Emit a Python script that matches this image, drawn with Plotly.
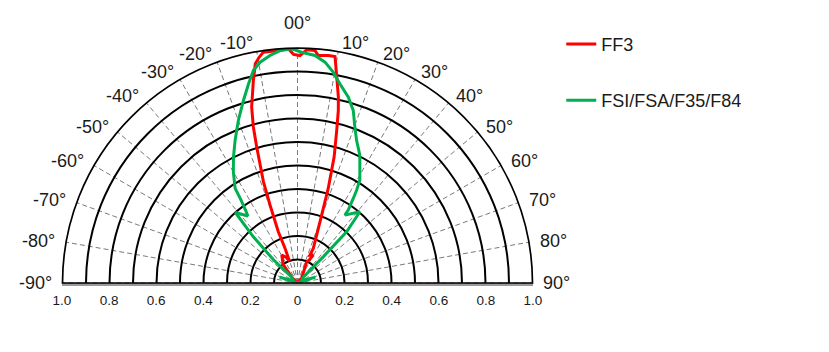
import math
import plotly.graph_objects as go

# ---- data (angle in degrees from vertical, relative intensity) ----
red_theta = [-90, -45, -38, -29.4, -24, -20, -19.8, -20.5, -19.4, -18.6, -17.3, -16.7,
             -15.8, -14.6, -12.3, -10.9, -9.6, -8.4, -6.3, -4.3, -2.2, -1.0, 0.6, 2.3,
             4.3, 5.2, 7.7, 9.4, 10.8, 12.4, 13.3, 14.4, 16.2, 18.0, 20.2, 24.5, 24.0,
             29.4, 27.0, 23.4, 40, 90]
red_r = [0, 0.03, 0.10, 0.136, 0.12, 0.10, 0.157, 0.233, 0.351, 0.454, 0.547, 0.604,
         0.690, 0.774, 0.882, 0.950, 0.975, 0.993, 0.992, 0.992, 0.997, 0.973, 0.968, 0.993,
         0.992, 0.972, 0.977, 0.977, 0.892, 0.810, 0.755, 0.671, 0.559, 0.423, 0.277, 0.162, 0.130,
         0.137, 0.110, 0.098, 0.028, 0]

green_theta = [-90, -72, -60, -45, -46, -43.7, -41.4, -36.5, -35.5, -34.2, -33.4, -30.0,
               -26.9, -23.6, -20.0, -16.5, -13.8, -11.7, -9.6, -6.9, -4.3, -1.4, 1.0, 4.4,
               7.1, 9.6, 12.0, 15.3, 17.9, 20.2, 22.5, 26.0, 31.2, 32.5, 33.4, 34.8, 34.9,
               41.2, 43.8, 44.5, 45, 60, 72, 90]
green_r = [0, 0.08, 0.02, 0.03, 0.142, 0.272, 0.40, 0.355, 0.38, 0.43, 0.482, 0.546,
           0.602, 0.663, 0.736, 0.810, 0.873, 0.924, 0.953, 0.975, 0.992, 0.997, 0.982, 0.971,
           0.947, 0.910, 0.867, 0.820, 0.772, 0.707, 0.657, 0.605, 0.512, 0.468, 0.431, 0.378, 0.352,
           0.403, 0.302, 0.156, 0.036, 0.02, 0.08, 0]

angle_ticks = [-90, -80, -70, -60, -50, -40, -30, -20, -10, 0, 10, 20, 30, 40, 50, 60, 70, 80, 90]
angle_labels = ["-90°", "-80°", "-70°", "-60°", "-50°", "-40°", "-30°", "-20°", "-10°", "00°",
                "10°", "20°", "30°", "40°", "50°", "60°", "70°", "80°", "90°"]
radial_ticks = [0.1, 0.2, 0.3, 0.4, 0.5, 0.6, 0.7, 0.8, 0.9, 1.0]
base_ticks = [-1.0, -0.8, -0.6, -0.4, -0.2, 0, 0.2, 0.4, 0.6, 0.8, 1.0]
base_labels = ["1.0", "0.8", "0.6", "0.4", "0.2", "0", "0.2", "0.4", "0.6", "0.8", "1.0"]

FONT = "Arial, Liberation Sans, sans-serif"
TXT = "#1a1a1a"

fig = go.Figure()
fig.add_trace(go.Scatterpolar(theta=red_theta, r=red_r, mode="lines", name="FF3",
                              legendgroup="a",
                              line=dict(color="#FF0000", width=3)))
fig.add_trace(go.Scatterpolar(theta=green_theta, r=green_r, mode="lines",
                              name="FSI/FSA/F35/F84", legendgroup="b",
                              line=dict(color="#00B050", width=3)))
# empty cartesian trace so the baseline axis is drawn
fig.add_trace(go.Scatter(x=[], y=[], showlegend=False, hoverinfo="skip"))

# angle labels (Excel style: text end/start just outside the rim).
# Plot area is the half-disc: paper x spans the diameter, paper y spans the radius.
for a, lab in zip(angle_ticks, angle_labels):
    rr = 1.108 if a == 0 else 1.036
    px = 0.5 + 0.5 * rr * math.sin(math.radians(a))
    py = rr * math.cos(math.radians(a))
    fig.add_annotation(x=px, y=py, xref="paper", yref="paper", text=lab,
                       showarrow=False, yanchor="middle",
                       xanchor="center" if a == 0 else ("right" if a < 0 else "left"),
                       font=dict(size=18, family=FONT, color=TXT))

fig.update_layout(
    width=829, height=352, autosize=False,
    margin=dict(l=62, r=296, t=47.5, b=69, pad=0),
    paper_bgcolor="white", plot_bgcolor="rgba(0,0,0,0)",
    font=dict(family=FONT, color=TXT),
    polar=dict(
        domain=dict(x=[0, 1], y=[0, 1]),
        sector=[0, 180],
        bgcolor="white",
        angularaxis=dict(
            rotation=90, direction="clockwise",
            tickmode="array", tickvals=angle_ticks, ticktext=angle_labels,
            showticklabels=False, ticks="",
            showline=True, linecolor="black", linewidth=1.7,
            showgrid=True, gridcolor="#7a7a7a", gridwidth=1.4, griddash="5px,3px",
        ),
        radialaxis=dict(
            range=[0, 1], tickmode="array", tickvals=radial_ticks,
            showticklabels=False, ticks="", showline=False,
            showgrid=True, gridcolor="black", gridwidth=1.7,
        ),
    ),
    xaxis=dict(
        domain=[0, 1], range=[-1, 1], tickmode="array",
        tickvals=base_ticks, ticktext=base_labels,
        tickfont=dict(size=13.5, family=FONT, color=TXT),
        showline=True, linecolor="#999999", linewidth=2.5,
        showgrid=False, zeroline=False, ticks="outside", ticklen=3,
        tickcolor="rgba(0,0,0,0)", fixedrange=True,
    ),
    yaxis=dict(domain=[0, 1], range=[0, 1], visible=False, fixedrange=True),
    legend=dict(
        x=1.06, y=1.095, xanchor="left", yanchor="top",
        font=dict(size=18, family=FONT, color=TXT),
        tracegroupgap=30, bgcolor="rgba(0,0,0,0)",
    ),
)

fig.write_html("out.html")
